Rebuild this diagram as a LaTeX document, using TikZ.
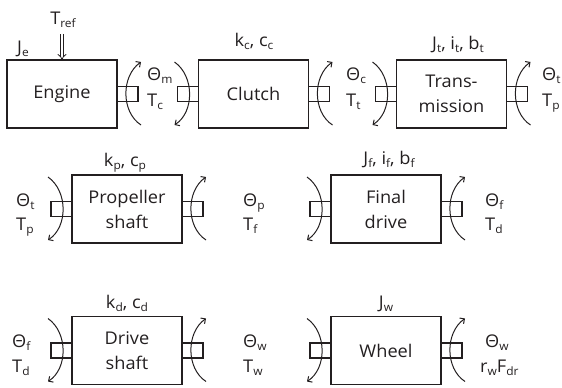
\documentclass[tikz,border=0pt]{standalone}
\usepackage{fontspec}
\setmainfont{Open Sans}[FakeStretch=1.04]
\usetikzlibrary{arrows.meta}
\definecolor{ink}{HTML}{231F20}
\newcommand\sbs[1]{\raisebox{-3.5pt}{\fontsize{11.5}{11.5}\selectfont #1}}
\newcommand\arcR[1]{\draw[rot] ([shift={(24,31)}]#1.east) .. controls ([shift={(4,18)}]#1.east) and ([shift={(4,-18)}]#1.east) .. ([shift={(24,-32)}]#1.east);}
\newcommand\arcL[1]{\draw[rot] ([shift={(-24,-32)}]#1.west) .. controls ([shift={(-4,-18)}]#1.west) and ([shift={(-4,18)}]#1.west) .. ([shift={(-24,31)}]#1.west);}
\begin{document}
\begin{tikzpicture}[x=1pt,y=-1pt,font=\fontsize{17.5}{25}\selectfont,color=ink,
  blk/.style={draw,line width=1.3pt,minimum width=110pt,minimum height=68pt,inner sep=0pt,outer sep=0pt,align=center},
  stub/.style={draw,line width=1.3pt,minimum width=21pt,minimum height=15pt,inner sep=0pt,outer sep=0pt},
  rot/.style={line width=1pt,-{Straight Barb[length=3.5pt,width=7pt]}},
  lbl/.style={inner sep=0pt,anchor=base west},
  hd/.style={inner sep=0pt,anchor=base}]
\useasboundingbox (0,0) rectangle (562,388);
% blocks
\node[blk] (eng) at (62,94) {Engine};
\node[blk] (clu) at (253.5,94) {Clutch};
\node[blk] (tra) at (451.5,94) {Trans-\\mission};
\node[blk] (pro) at (127,209) {Propeller\\shaft};
\node[blk] (fin) at (386,209) {Final\\drive};
\node[blk] (drv) at (127,350.5) {Drive\\shaft};
\node[blk] (whl) at (386,350.5) {Wheel};
% stubs
\node[stub,anchor=west] (engR) at (eng.east) {};
\node[stub,anchor=east] (cluL) at (clu.west) {};
\node[stub,anchor=west] (cluR) at (clu.east) {};
\node[stub,anchor=east] (traL) at (tra.west) {};
\node[stub,anchor=west] (traR) at (tra.east) {};
\node[stub,anchor=east] (proL) at (pro.west) {};
\node[stub,anchor=west] (proR) at (pro.east) {};
\node[stub,anchor=east] (finL) at (fin.west) {};
\node[stub,anchor=west] (finR) at (fin.east) {};
\node[stub,anchor=east] (drvL) at (drv.west) {};
\node[stub,anchor=west] (drvR) at (drv.east) {};
\node[stub,anchor=east] (whlL) at (whl.west) {};
\node[stub,anchor=west] (whlR) at (whl.east) {};
% rotation arcs
\arcR{eng} \arcL{clu} \arcR{clu} \arcL{tra} \arcR{tra}
\arcL{pro} \arcR{pro} \arcL{fin} \arcR{fin}
\arcL{drv} \arcR{drv} \arcL{whl} \arcR{whl}
% headings
\node[hd] (tref) at (63,24) {T\sbs{ref}};
\draw[double,double distance=2.2pt,line width=0.8pt,-{Implies}] (tref.south -| eng.north) ++(0,6) -- (eng.north);
\node[lbl] (je) at (17,53) {J\sbs{e}};
\node[hd] (kc) at (254,46) {k\sbs{c}, c\sbs{c}};
\node[hd] (jt) at (458,49) {J\sbs{t}, i\sbs{t}, b\sbs{t}};
\node[hd] (kp) at (125,166) {k\sbs{p}, c\sbs{p}};
\node[hd] (jf) at (389,164) {J\sbs{f}, i\sbs{f}, b\sbs{f}};
\node[hd] (kd) at (127,308) {k\sbs{d}, c\sbs{d}};
\node[hd] (jw) at (386,308) {J\sbs{w}};
% row 1 labels
\node[lbl] (thm) at (147,80) {Θ\sbs{m}};
\node[lbl] (tc) at (147,106) {T\sbs{c}};
\node[lbl] (thc) at (346,80) {Θ\sbs{c}};
\node[lbl] (tt) at (346,106) {T\sbs{t}};
\node[lbl] (tht) at (542,80) {Θ\sbs{t}};
\node[lbl] (tp) at (542,106) {T\sbs{p}};
% row 2 labels
\node[lbl] (thtb) at (16,206) {Θ\sbs{t}};
\node[lbl] (tpb) at (16,230) {T\sbs{p}};
\node[lbl] (thp) at (243,206) {Θ\sbs{p}};
\node[lbl] (tf) at (243,230) {T\sbs{f}};
\node[lbl] (thf) at (485,206) {Θ\sbs{f}};
\node[lbl] (td) at (485,230) {T\sbs{d}};
% row 3 labels
\node[lbl] (thfb) at (12,347) {Θ\sbs{f}};
\node[lbl] (tdb) at (12,372) {T\sbs{d}};
\node[lbl] (thw) at (243,347) {Θ\sbs{w}};
\node[lbl] (tw) at (243,372) {T\sbs{w}};
\node[lbl] (thwb) at (485,347) {Θ\sbs{w}};
\node[lbl] (rwf) at (480,372) {r\sbs{w}F\sbs{dr}};
\end{tikzpicture}
\end{document}
